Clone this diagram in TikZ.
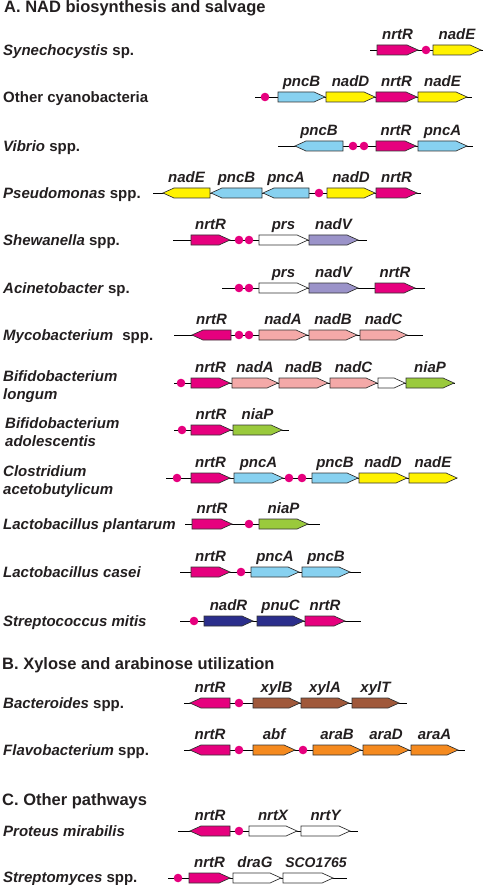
\documentclass[tikz,border=0pt]{standalone}
\usepackage{fontspec}
\setmainfont{Liberation Sans}
\definecolor{mag}{HTML}{E6007E}
\definecolor{yel}{HTML}{FFF200}
\definecolor{lblue}{HTML}{87D1F0}
\definecolor{pinkg}{HTML}{F4A9A8}
\definecolor{lav}{HTML}{9B93C9}
\definecolor{grn}{HTML}{9ACA3C}
\definecolor{navy}{HTML}{2B2E8C}
\definecolor{brn}{HTML}{A0583A}
\definecolor{org}{HTML}{F58A1F}
\definecolor{txt}{HTML}{231F20}
\newcounter{glc}
\newcommand\geneR[5]{%
  \filldraw[gene,fill=#4] (#1,#3-5) -- (#2-11,#3-5) -- (#2,#3) -- (#2-11,#3+5) -- (#1,#3+5) -- cycle;
  \stepcounter{glc}\node[glab] (gl\arabic{glc}) at ({(#1+#2)/2},#3-10.5) {#5};}
\newcommand\geneL[5]{%
  \filldraw[gene,fill=#4] (#2,#3-5) -- (#1+11,#3-5) -- (#1,#3) -- (#1+11,#3+5) -- (#2,#3+5) -- cycle;
  \stepcounter{glc}\node[glab] (gl\arabic{glc}) at ({(#1+#2)/2},#3-10.5) {#5};}
\newcommand\geneRn[4]{%
  \filldraw[gene,fill=#4] (#1,#3-5) -- (#2-11,#3-5) -- (#2,#3) -- (#2-11,#3+5) -- (#1,#3+5) -- cycle;}
\newcommand\dotm[2]{\fill[mag] (#1,#2) circle (4.3pt);}
\newcommand\bb[3]{\draw[backbone] (#1,#3) -- (#2,#3);}
\begin{document}
\begin{tikzpicture}[x=1pt,y=-1pt,
  gene/.style={draw=black!80,line width=0.7pt,line join=miter},
  backbone/.style={draw=black,line width=0.8pt},
  glab/.style={anchor=base,inner sep=0pt,text=txt,font=\bfseries\itshape\fontsize{15}{15}\selectfont},
  spc/.style={anchor=base west,inner sep=0pt,text=txt,font=\bfseries\fontsize{15}{15}\selectfont},
  ttl/.style={anchor=base west,inner sep=0pt,text=txt,font=\bfseries\fontsize{16.5}{16.5}\selectfont}]
\useasboundingbox (0,0) rectangle (485,885);
% titles
\node[ttl] (tA) at (4,13) {A. NAD biosynthesis and salvage};
\node[ttl] (tB) at (2,669) {B. Xylose and arabinose utilization};
\node[ttl] (tC) at (2,805) {C. Other pathways};
% species
\node[spc] (s1) at (3,55.5) {\textit{Synechocystis} sp.};
\node[spc] (s2) at (3,102.5) {Other cyanobacteria};
\node[spc] (s3) at (3,151.5) {\textit{Vibrio} spp.};
\node[spc] (s4) at (3,198.5) {\textit{Pseudomonas} spp.};
\node[spc] (s5) at (3,245.5) {\textit{Shewanella} spp.};
\node[spc] (s6) at (3,293.5) {\textit{Acinetobacter} sp.};
\node[spc] (s7) at (3,340.5) {\textit{Mycobacterium}\hspace{5pt} spp.};
\node[spc] (s8a) at (3,381) {\textit{Bifidobacterium}};
\node[spc] (s8b) at (3,399) {\textit{longum}};
\node[spc] (s9a) at (5,428) {\textit{Bifidobacterium}};
\node[spc] (s9b) at (5,446) {\textit{adolescentis}};
\node[spc] (s10a) at (3,476) {\textit{Clostridium}};
\node[spc] (s10b) at (3,494) {\textit{acetobutylicum}};
\node[spc] (s11) at (3,529.5) {\textit{Lactobacillus plantarum}};
\node[spc] (s12) at (3,577.5) {\textit{Lactobacillus casei}};
\node[spc] (s13) at (3,626.5) {\textit{Streptococcus mitis}};
\node[spc] (s14) at (3,708.5) {\textit{Bacteroides} spp.};
\node[spc] (s15) at (3,755.5) {\textit{Flavobacterium} spp.};
\node[spc] (s16) at (3,836.5) {\textit{Proteus mirabilis}};
\node[spc] (s17) at (3,882.5) {\textit{Streptomyces} spp.};
% R1 Synechocystis
\bb{370}{483}{50}
\geneR{377}{418}{50}{mag}{nrtR}
\dotm{426}{50}
\geneR{433}{481}{50}{yel}{nadE}
% R2 Other cyanobacteria
\bb{255}{472}{97}
\dotm{265}{97}
\geneR{278}{325}{97}{lblue}{pncB}
\geneR{326}{375}{97}{yel}{nadD}
\geneR{376}{417}{97}{mag}{nrtR}
\geneR{418}{467}{97}{yel}{nadE}
% R3 Vibrio
\bb{278}{473}{146}
\geneL{295}{343}{146}{lblue}{pncB}
\dotm{353}{146}\dotm{364}{146}
\geneR{376}{416}{146}{mag}{nrtR}
\geneR{418}{467}{146}{lblue}{pncA}
% R4 Pseudomonas
\bb{153}{421}{193}
\geneL{163}{210}{193}{yel}{nadE}
\geneL{211}{262}{193}{lblue}{pncB}
\geneL{263}{309}{193}{lblue}{pncA}
\dotm{319}{193}
\geneR{327}{375}{193}{yel}{nadD}
\geneR{376}{417}{193}{mag}{nrtR}
% R5 Shewanella
\bb{173}{367}{240}
\geneR{191}{230}{240}{mag}{nrtR}
\dotm{239}{240}\dotm{249}{240}
\geneR{259}{308}{240}{white}{prs}
\geneR{309}{358}{240}{lav}{nadV}
% R6 Acinetobacter
\bb{222}{425}{288}
\dotm{239}{288}\dotm{249}{288}
\geneR{259}{308}{288}{white}{prs}
\geneR{309}{358}{288}{lav}{nadV}
\geneR{375}{415}{288}{mag}{nrtR}
% R7 Mycobacterium
\bb{174}{423}{335}
\geneL{192}{231}{335}{mag}{nrtR}
\dotm{239}{335}\dotm{249}{335}
\geneR{259}{307}{335}{pinkg}{nadA}
\geneR{309}{357}{335}{pinkg}{nadB}
\geneR{360}{407}{335}{pinkg}{nadC}
% R8 Bifidobacterium longum
\bb{174}{455}{383}
\dotm{181}{383}
\geneR{191}{230}{383}{mag}{nrtR}
\geneR{232}{278}{383}{pinkg}{nadA}
\geneR{279}{328}{383}{pinkg}{nadB}
\geneR{330}{377}{383}{pinkg}{nadC}
\geneRn{378}{405}{383}{white}
\geneR{406}{454}{383}{grn}{niaP}
% R9 Bifidobacterium adolescentis
\bb{174}{289}{430}
\dotm{182}{430}
\geneR{191}{231}{430}{mag}{nrtR}
\geneR{233}{282}{430}{grn}{niaP}
% R10 Clostridium
\bb{166}{457}{478}
\dotm{177}{478}
\geneR{191}{230}{478}{mag}{nrtR}
\geneR{234}{283}{478}{lblue}{pncA}
\dotm{289}{478}\dotm{302}{478}
\geneR{312}{358}{478}{lblue}{pncB}
\geneR{359}{407}{478}{yel}{nadD}
\geneR{409}{457}{478}{yel}{nadE}
% R11 Lactobacillus plantarum
\bb{185}{320}{524}
\geneR{192}{232}{524}{mag}{nrtR}
\dotm{249}{524}
\geneR{259}{308}{524}{grn}{niaP}
% R12 Lactobacillus casei
\bb{180}{361}{572}
\geneR{191}{230}{572}{mag}{nrtR}
\dotm{241}{572}
\geneR{251}{299}{572}{lblue}{pncA}
\geneR{302}{350}{572}{lblue}{pncB}
% R13 Streptococcus mitis
\bb{180}{361}{621}
\dotm{194}{621}
\geneR{204}{253}{621}{navy}{nadR}
\geneR{257}{304}{621}{navy}{pnuC}
\geneR{305}{345}{621}{mag}{nrtR}
% R14 Bacteroides
\bb{184}{407}{703}
\geneL{190}{230}{703}{mag}{nrtR}
\dotm{239}{703}
\geneR{253}{300}{703}{brn}{xylB}
\geneR{301}{349}{703}{brn}{xylA}
\geneR{352}{399}{703}{brn}{xylT}
% R15 Flavobacterium
\bb{184}{465}{750}
\geneL{190}{230}{750}{mag}{nrtR}
\dotm{239}{750}
\geneR{253}{295}{750}{org}{abf}
\dotm{303}{750}
\geneR{313}{361}{750}{org}{araB}
\geneR{363}{409}{750}{org}{araD}
\geneR{411}{458}{750}{org}{araA}
% R16 Proteus
\bb{178}{358}{831}
\geneL{190}{230}{831}{mag}{nrtR}
\dotm{239}{831}
\geneR{249}{297}{831}{white}{nrtX}
\geneR{301}{350}{831}{white}{nrtY}
% R17 Streptomyces
\bb{168}{347}{878}
\dotm{178}{878}
\geneR{189}{230}{878}{mag}{nrtR}
\filldraw[gene,fill=white] (233,873) -- (270,873) -- (281,878) -- (270,883) -- (233,883) -- cycle;
\node[glab] (dg) at (255,867.5) {draG};
\filldraw[gene,fill=white] (283,873) -- (322,873) -- (333,878) -- (322,883) -- (283,883) -- cycle;
\node[glab,font=\bfseries\itshape\fontsize{14}{14}\selectfont] (sco) at (316,867.5) {SCO1765};
\end{tikzpicture}
\end{document}
